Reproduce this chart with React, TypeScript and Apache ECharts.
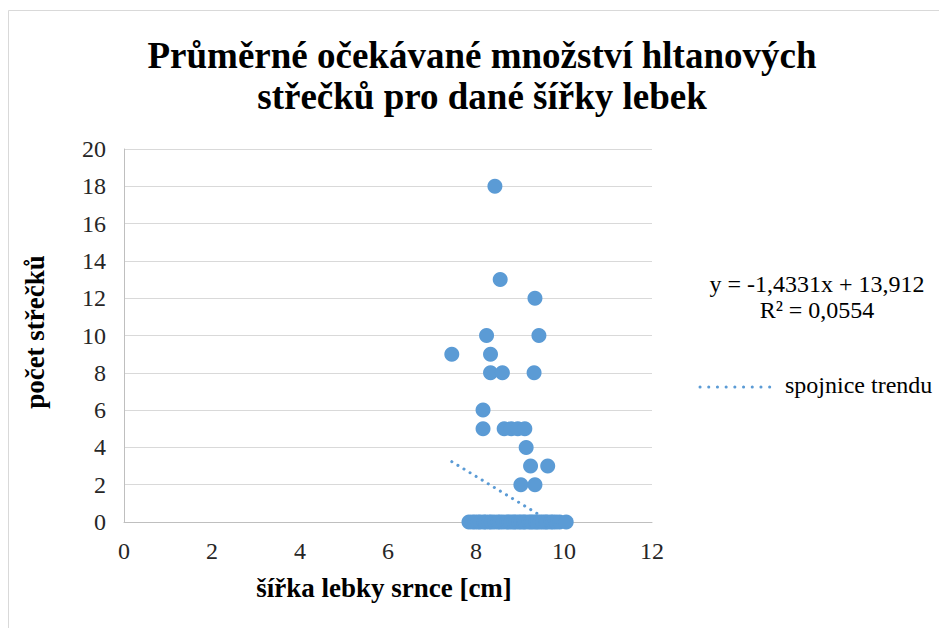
import React, { useEffect, useRef } from "react";
import * as echarts from "echarts";

const skullWidth: number[] = [
  8.43, 8.55, 9.34, 8.24, 9.43, 7.45, 8.33, 8.33, 8.6, 9.32,
  8.16, 8.16, 8.64, 8.8, 8.95, 9.11, 9.14, 9.24, 9.63, 9.02, 9.34,
  7.84, 7.92, 7.98, 8.05, 8.1, 8.18, 8.22, 8.3, 8.35, 8.42, 8.5, 8.55,
  8.62, 8.7, 8.74, 8.8, 8.86, 8.9, 8.97, 9.02, 9.08, 9.12, 9.2, 9.25,
  9.3, 9.36, 9.4, 9.46, 9.52, 9.58, 9.62, 9.7, 9.75, 9.82, 9.9, 10.05,
];
const pestCount: number[] = [
  18, 13, 12, 10, 10, 9, 9, 8, 8, 8,
  6, 5, 5, 5, 5, 5, 4, 3, 3, 2, 2,
  0, 0, 0, 0, 0, 0, 0, 0, 0, 0, 0, 0,
  0, 0, 0, 0, 0, 0, 0, 0, 0, 0, 0, 0,
  0, 0, 0, 0, 0, 0, 0, 0, 0, 0, 0, 0,
];
const trendSlope = -1.4331;
const trendIntercept = 13.912;
const trendR2 = "0,0554";
const titleLines: string[] = ["Průměrné očekávané množství hltanových", "střečků pro dané šířky lebek"];
const xAxisTitle = "šířka lebky srnce [cm]";
const yAxisTitle = "počet střečků";
const legendLabel = "spojnice trendu";

export default function App() {
  const ref = useRef<HTMLDivElement>(null);
  useEffect(() => {
    if (!ref.current) return;
    const chart = echarts.init(ref.current, null, { renderer: "svg" });
    const font = "Liberation Serif";
    const blue = "#5b9bd5";
    const points = skullWidth.map((x, i) => [x, pestCount[i]]);
    const xMin = Math.min(...skullWidth);
    const xMax = Math.max(...skullWidth);
    const trend = [
      [xMin, trendSlope * xMin + trendIntercept],
      [xMax, trendSlope * xMax + trendIntercept],
    ];
    const eq = `y = ${trendSlope.toFixed(4).replace(".", ",")}x + ${trendIntercept.toFixed(3).replace(".", ",")}`;
    const txt = (text: string, x: number, y: number, align: string, size: number, weight: string, rotation = 0) => ({
      type: "text",
      x,
      y,
      rotation,
      style: {
        text,
        fontFamily: font,
        fontSize: size,
        fontWeight: weight,
        fill: "#000",
        align,
        verticalAlign: "middle",
      },
    });
    chart.setOption({
      animation: false,
      backgroundColor: "#ffffff",
      grid: { left: 124, right: 287, top: 149, bottom: 106, containLabel: false },
      xAxis: {
        type: "value",
        min: 0,
        max: 12,
        interval: 2,
        axisLine: { show: true, lineStyle: { color: "#bfbfbf", width: 1 } },
        axisTick: { show: false },
        splitLine: { show: false },
        axisLabel: { fontFamily: font, fontSize: 24, color: "#262626", margin: 17 },
      },
      yAxis: {
        type: "value",
        min: 0,
        max: 20,
        interval: 2,
        axisLine: { show: true, lineStyle: { color: "#bfbfbf", width: 1 } },
        axisTick: { show: false },
        splitLine: { show: true, lineStyle: { color: "#d9d9d9", width: 1 } },
        axisLabel: { fontFamily: font, fontSize: 24, color: "#262626", margin: 18 },
      },
      series: [
        {
          type: "scatter",
          data: points,
          symbol: "circle",
          symbolSize: 15,
          itemStyle: { color: blue, opacity: 1 },
        },
        {
          type: "line",
          name: legendLabel,
          data: trend,
          clip: true,
          symbol: "none",
          lineStyle: { color: blue, width: 3, type: [0.1, 7], cap: "round" },
        },
      ],
      graphic: [
        {
          type: "polyline",
          shape: { points: [[8.5, 1000], [8.5, 10.5], [1000, 10.5]] },
          style: { stroke: "#d9d9d9", fill: "none", lineWidth: 1 },
          silent: true,
        },
        txt(titleLines[0], 482, 55, "center", 37, "bold"),
        txt(titleLines[1], 482, 96, "center", 37, "bold"),
        txt(xAxisTitle, 384, 588, "center", 27, "bold"),
        txt(yAxisTitle, 35, 332, "center", 27, "bold", Math.PI / 2),
        txt(eq, 817, 284, "center", 24, "normal"),
        txt(`R² = ${trendR2}`, 817, 310, "center", 24, "normal"),
        {
          type: "line",
          shape: { x1: 700, y1: 387, x2: 778, y2: 387 },
          style: { stroke: blue, lineWidth: 3, lineDash: [0.1, 8.6], lineCap: "round" },
        },
        txt(legendLabel, 785, 385, "left", 24, "normal"),
      ],
    });
    return () => chart.dispose();
  }, []);
  return (
    <div
      ref={ref}
      style={{ position: "fixed", left: 0, top: 0, width: 939, height: 628 }}
    />
  );
}
